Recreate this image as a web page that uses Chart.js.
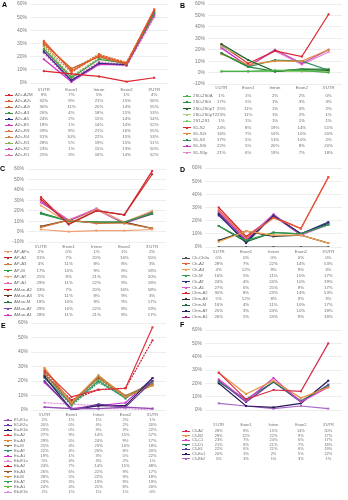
<!DOCTYPE html>
<html><head><meta charset="utf-8">
<script src="https://cdn.jsdelivr.net/npm/chart.js@4"></script>
<style>
html,body{margin:0;padding:0;background:#fff;width:348px;height:500px;overflow:hidden;}
#root{position:relative;width:348px;height:500px;font-family:"Liberation Sans",Arial,sans-serif;}
canvas{position:absolute;}
.t{position:absolute;color:#6f6f6f;white-space:nowrap;line-height:1;}
.c{transform:translate(-50%,-50%);}
.l{transform:translateY(-50%);}
.lab{position:absolute;font-weight:bold;font-size:7px;color:#000;line-height:1;}
.key{position:absolute;height:0;}
.mk{position:absolute;width:2px;height:2px;}
</style></head><body><div id="root"></div>
<script>
// ---------- DATA ----------
const categories = ["5'UTR","Exon1","Intron","Exon2","3'UTR"];

const namesA = ["A2s-A2M","A2s-A2s","A2s-A2t","A2s-A3","A2s-A5","A2s-B5","A2s-R9","A2s-R4","A2s-R3","A2s-R2","A2s-R1"];
const valuesA = [
  [9,7,5,1,4],[32,9,21,15,56],[30,11,20,14,55],[26,4,18,15,53],[24,2,15,14,54],[18,1,14,14,52],
  [29,8,21,16,55],[31,10,22,15,53],[28,5,19,15,51],[23,1,15,13,50],[25,3,16,14,52]];

const namesB = ["2S0-2S0A","2S0-2S0t","2S0-2S0pT","2S0-2S0pT2","2S1-2S1","S1-S2","S1-S2t","S1-S3","S1-S3t","S1-S3p"];
const valuesB = [
  [1,1,2,2,0],[17,5,1,3,3],[25,11,1,3,2],[23,11,1,2,1],[1,1,1,1,1],
  [24,8,19,14,51],[16,7,10,10,20],[17,5,11,10,2],[22,5,20,8,20],[21,6,19,7,18]];

const namesC = ["AP-APa","AP-A2","AP-A3","AP-M","AP-AT","AP-A1","AMan-A2","AMan-A3","AMan-M","AMan-AT","AMan-A1"];
const valuesC = [
  [2,0,1,1,2],[31,7,20,16,55],[4,11,8,8,3],[17,10,9,9,18],[25,8,21,9,20],[29,11,22,9,18],
  [33,7,20,16,58],[5,11,8,9,3],[18,10,9,9,17],[29,10,22,8,19],[28,11,21,8,17]];

const namesD = ["Ch-Ch0a","Ch-A2","Ch-A3","Ch-M","Ch-AT","Ch-A1","Chm-A2","Chm-A3","Chm-M","Chm-AT","Chm-A1"];
const valuesD = [
  [0,0,0,0,0],[28,7,22,14,53],[4,12,9,9,3],[16,5,11,10,17],[24,4,24,10,19],[27,6,25,9,17],
  [30,8,23,14,53],[5,12,8,9,3],[16,4,11,10,17],[25,3,24,10,18],[26,5,24,9,18]];

const namesE = ["E1-E1a","E1-E2a","Ea-E1b","Ea-A2","Ea-A3","Ea-M","Ea-AT","Ea-A1","Eb-E1a","Eb-A2","Eb-A3","Eb-M","Eb-AT","Eb-A1","Eb-E1b"];
const valuesE = [
  [2,1,1,2,1],[20,0,4,2,20],[23,0,3,3,22],[27,9,14,15,57],[29,5,24,9,17],[25,4,23,10,18],
  [22,4,20,8,20],[19,1,3,5,22],[5,4,3,2,1],[24,7,14,15,48],[26,6,22,9,17],[28,5,22,9,18],
  [23,3,19,9,19],[24,4,21,8,20],[2,1,1,1,0]];

const namesF = ["C5-A2","C5-B2","C5-C1","C5-D1","C5-E1","C5-Ea1","C5-Eb2"];
const valuesF = [
  [28,8,15,14,50],[28,12,22,9,17],[23,7,24,6,17],[21,8,21,7,18],[22,6,21,6,19],[20,3,2,5,22],[5,3,1,3,1]];

const yTicks = { A:[0,60], B:[-10,60], C:[-10,60], D:[0,60], E:[0,60], F:[0,60] };

// ---------- STYLES ----------
const colorsA = ["#d9252e","#e8552b","#c8612a","#3a9a48","#2b2f7f","#d22bc0","#e8703a","#d4782e","#8cb04a","#c84ac8","#e670b0"];
const dashA   = [0,0,0,0,0,0,1,1,1,1,1];
const colorsB = ["#4bb04b","#2e8b3e","#1e5e2a","#a8cc78","#7ccc6c","#d7262f","#e58a3c","#2a8f5a","#c23bc2","#e686c6"];
const dashB   = [0,0,0,0,0,0,0,0,0,0];
const colorsC = ["#f0a070","#c0282e","#d07a3a","#2e9a4a","#f3a56a","#e869b0","#e0202a","#6a3a20","#1f7a3a","#7a4aa8","#d83ac8"];
const dashC   = [0,0,0,0,0,0,0,0,0,0,0];
const colorsD = ["#505050","#e8603a","#f0a050","#2e9a4a","#2e3280","#d862c8","#d9202c","#303030","#1f6a3a","#20205a","#a0208a"];
const dashD   = [0,0,0,0,0,0,0,0,0,0,0];
const colorsE = ["#9050b0","#6a3d9a","#2e1a5c","#e0303a","#e08a3a","#a07848","#2a9a7a","#c82ec8","#e088d8","#c8202e","#9a5a30","#e0903a","#3aa060","#70b040","#d890e0"];
const dashE   = [0,0,0,0,0,0,0,0,1,1,1,1,1,1,1];
const colorsF = ["#d82a4a","#e89040","#d43ed0","#2e7a5a","#5a3aa0","#2a1a5a","#a868c8"];
const dashF   = [0,0,0,0,0,0,0];

const root = document.getElementById('root');
function el(cls, txt, x, y, extra){
  const d=document.createElement('div'); d.className=cls; if(txt!=null) d.textContent=txt;
  d.style.left=x+'px'; d.style.top=y+'px'; if(extra) Object.assign(d.style, extra);
  root.appendChild(d); return d;
}

function panel(p){
  const yW=26, padT=4, padB=4, padR=0;
  const plotW=p.right-p.left, plotH=p.bottom-p.top;
  const cv=document.createElement('canvas');
  const W=yW+plotW+padR, H=plotH+padT+padB;
  cv.width=W; cv.height=H; cv.style.width=W+'px'; cv.style.height=H+'px';
  cv.style.left=(p.left-yW)+'px'; cv.style.top=(p.top-padT)+'px';
  root.appendChild(cv);
  const ds=p.values.map((v,i)=>({
    label:p.names[i], data:v, borderColor:p.colors[i], backgroundColor:p.colors[i],
    borderWidth:1.2, pointRadius:1.4, pointBorderWidth:0, pointStyle:'rect',
    borderDash:p.dash[i]?[2,1]:[], tension:0
  }));
  const ch=new Chart(cv,{type:'line',data:{labels:categories,datasets:ds},
    options:{responsive:false,animation:false,devicePixelRatio:1,
      layout:{padding:{top:padT,bottom:padB,left:0,right:padR}},
      plugins:{legend:{display:false},tooltip:{enabled:false}},
      scales:{
        x:{type:'category',display:false,offset:true},
        y:{min:p.range[0],max:p.range[1],afterFit:s=>{s.width=yW;},
           border:{display:false},
           grid:{color:'#e2e2e2',lineWidth:0.6,drawTicks:false},
           ticks:{stepSize:10,padding:3,color:'#7a7a7a',font:{size:5,family:'Liberation Sans'},callback:v=>v+'%'}}
      }}});
  const offX=p.left-yW;
  const cx=categories.map((c,i)=>offX+ch.scales.x.getPixelForValue(i));
  const fs=p.fs+'px';
  categories.forEach((c,i)=>el('t c',c,cx[i],p.hy,{fontSize:fs}));
  p.names.forEach((n,r)=>{
    const y=p.ry+r*p.step;
    el('key',null,p.kx,y,{width:'8px',borderTop:'1px '+(p.dash[r]?'dashed ':'solid ')+p.colors[r],marginTop:'-0.5px'});
    el('mk',null,p.kx+3,y-1,{background:p.colors[r]});
    el('t l',n,p.kx+10,y,{fontSize:fs});
    p.values[r].forEach((v,i)=>el('t c',v+'%',cx[i],y,{fontSize:fs}));
  });
  el('lab',p.letter,p.lx,p.ly);
}

panel({letter:'A',lx:2,ly:1,names:namesA,values:valuesA,colors:colorsA,dash:dashA,range:yTicks.A,
  left:30,right:172,top:2,bottom:85,hy:90,ry:95,step:6.0,kx:5,fs:4.3});
panel({letter:'B',lx:180,ly:2,names:namesB,values:valuesB,colors:colorsB,dash:dashB,range:yTicks.B,
  left:208,right:346,top:2,bottom:86,hy:88,ry:96,step:6.3,kx:183,fs:4.3});
panel({letter:'C',lx:0,ly:165,names:namesC,values:valuesC,colors:colorsC,dash:dashC,range:yTicks.C,
  left:27,right:170,top:167,bottom:244,hy:247,ry:251.5,step:6.35,kx:4,fs:4.3});
panel({letter:'D',lx:180,ly:166,names:namesD,values:valuesD,colors:colorsD,dash:dashD,range:yTicks.D,
  left:205,right:346,top:166,bottom:249,hy:252,ry:258,step:5.9,kx:182,fs:4.3});
panel({letter:'E',lx:1,ly:322,names:namesE,values:valuesE,colors:colorsE,dash:dashE,range:yTicks.E,
  left:31,right:170,top:321,bottom:412,hy:415,ry:420,step:5.15,kx:4,fs:4.1});
panel({letter:'F',lx:180,ly:321,names:namesF,values:valuesF,colors:colorsF,dash:dashF,range:yTicks.F,
  left:205,right:346,top:328,bottom:412,hy:425,ry:431,step:4.6,kx:182,fs:3.9});
</script></body></html>
